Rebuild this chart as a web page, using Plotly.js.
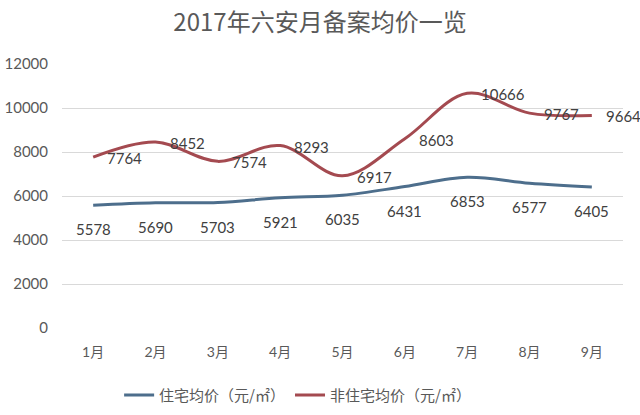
<!DOCTYPE html>
<html>
<head>
<meta charset="utf-8">
<script src="https://cdn.plot.ly/plotly-3.0.1.min.js"></script>
<style>html,body{margin:0;padding:0;background:#fff;}#chart{width:640px;height:415px;}</style>
</head>
<body>
<div id="chart"></div>
<script>
const months = ["1月","2月","3月","4月","5月","6月","7月","8月","9月"];
const residential = [5578, 5690, 5703, 5921, 6035, 6431, 6853, 6577, 6405];
const nonResidential = [7764, 8452, 7574, 8293, 6917, 8603, 10666, 9767, 9664];
const seriesNames = ["住宅均价（元/㎡）", "非住宅均价（元/㎡）"];
const yTicks = [0, 2000, 4000, 6000, 8000, 10000, 12000];

const FONT = "Lato, 'Noto Sans CJK SC', sans-serif";
const blue = "#4d6e8c";
const red = "#a44a50";

const traces = [
  {x: months, y: residential, name: seriesNames[0], mode: "lines", type: "scatter",
   line: {color: blue, width: 3, shape: "spline", smoothing: 1}},
  {x: months, y: nonResidential, name: seriesNames[1], mode: "lines", type: "scatter",
   line: {color: red, width: 3, shape: "spline", smoothing: 1}}
];

const annotations = [];
months.forEach((m, i) => {
  annotations.push({x: m, y: residential[i], text: String(residential[i]), showarrow: false,
    xanchor: "center", yanchor: "middle", yshift: -24, font: {family: FONT, size: 15, color: "#404040"}});
  annotations.push({x: m, y: nonResidential[i], text: String(nonResidential[i]), showarrow: false,
    xanchor: "left", yanchor: "middle", xshift: 12, yshift: -1, font: {family: FONT, size: 15, color: "#404040"}});
});

const layout = {
  width: 640, height: 415,
  margin: {l: 62, r: 17, t: 64, b: 87, autoexpand: false},
  paper_bgcolor: "#fff", plot_bgcolor: "#fff",
  title: {text: "2017年六安月备案均价一览", x: 0.5, xref: "container", y: 0.945, yanchor: "middle",
    font: {family: "'Noto Sans CJK SC', sans-serif", size: 24, color: "#595959"}},
  xaxis: {type: "category", range: [-0.5, 8.5], showgrid: false, zeroline: false, showline: false,
    automargin: false,
    ticks: "", ticklabelstandoff: 14, tickfont: {family: FONT, size: 14, color: "#595959"}},
  yaxis: {range: [0, 12000], tickvals: yTicks, ticktext: yTicks.map(String), showgrid: true,
    automargin: false,
    gridcolor: "#d9d9d9", gridwidth: 1, zeroline: false, showline: false, ticks: "",
    ticklabelstandoff: 13,
    tickfont: {family: FONT, size: 15, color: "#595959"}},
  showlegend: true,
  legend: {orientation: "h", x: 0.42, xanchor: "center", y: -0.255, yanchor: "middle",
    font: {family: "'Noto Sans CJK SC', sans-serif", size: 15, color: "#595959"},
    itemwidth: 30, tracegroupgap: 0},
  annotations: annotations
};

Plotly.newPlot("chart", traces, layout, {displayModeBar: false, staticPlot: true});
</script>
</body>
</html>
